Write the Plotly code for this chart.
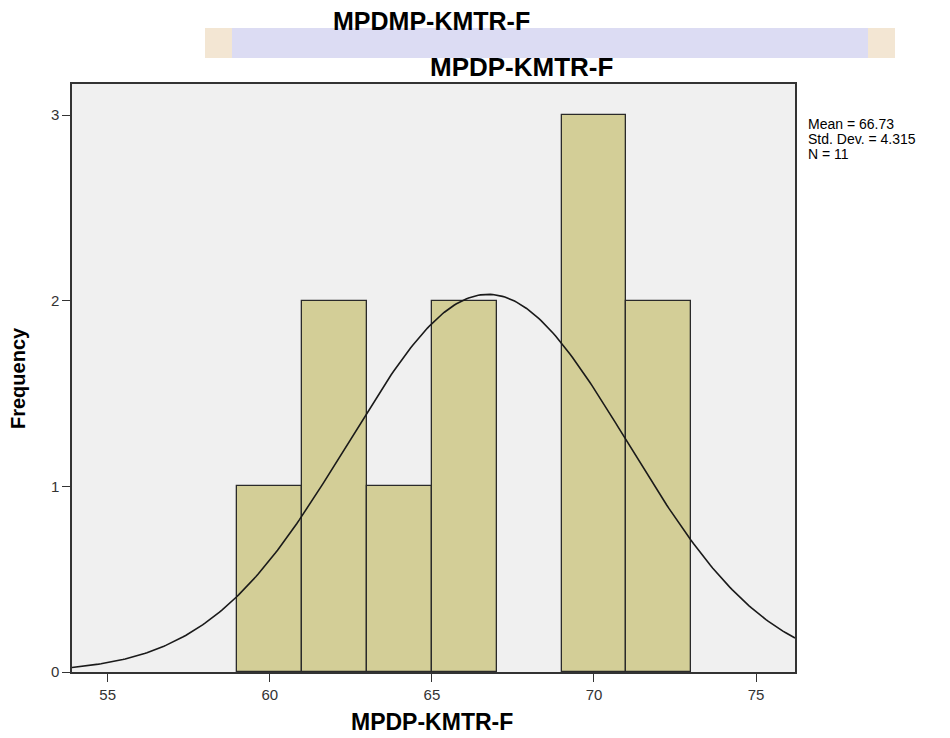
import numpy as np
import plotly.graph_objects as go

# histogram bins (SPSS output)
bin_start = [59, 61, 63, 65, 69, 71]
bin_end = [61, 63, 65, 67, 71, 73]
counts = [1, 2, 1, 2, 3, 2]

mean_val = 66.73
std_val = 4.315
n_val = 11
bin_width = 2

x_ticks = [55, 60, 65, 70, 75]
y_ticks = [0, 1, 2, 3]

FONT = 'Arial, Liberation Sans, sans-serif'


def normal_curve(lo, hi, mu, sd, n, width):
    xs = np.linspace(lo, hi, 300)
    ys = n * width / (sd * np.sqrt(2 * np.pi)) * np.exp(-0.5 * ((xs - mu) / sd) ** 2)
    return xs, ys


# page pixel -> paper coords (plot area is 72..795 x 84..672 on the page)
def px(x):
    return (x - 72) / 723


def py(y):
    return (672 - y) / 588


def label(text, x, y, size, **kw):
    return dict(text=text, xref='paper', yref='paper', x=px(x), y=py(y),
                xanchor=kw.pop('xanchor', 'center'), yanchor='middle', showarrow=False,
                font=dict(size=size, color='black', family=FONT), **kw)


centers = [(a + b) / 2 for a, b in zip(bin_start, bin_end)]
widths = [b - a for a, b in zip(bin_start, bin_end)]

fig = go.Figure()
fig.add_trace(go.Bar(x=centers, y=counts, width=widths,
                     marker=dict(color='#D3CE97', line=dict(color='#2a2a2a', width=1.3)),
                     showlegend=False))

cx, cy = normal_curve(53.9, 76.2, mean_val, std_val, n_val, bin_width)
fig.add_trace(go.Scatter(x=cx, y=cy, mode='lines',
                         line=dict(color='#1a1a1a', width=1.6),
                         showlegend=False))

stats = ['Mean = %.2f' % mean_val, 'Std. Dev. = %.3f' % std_val, 'N = %d' % n_val]
stat_ann = [label(s, 806, 124 + 15 * i, 14, xanchor='left') for i, s in enumerate(stats)]

band = dict(type='rect', xref='paper', yref='paper', line=dict(width=0), layer='below')

fig.update_layout(
    width=942, height=730,
    margin=dict(l=64, r=155, t=76, b=66),
    paper_bgcolor='white',
    plot_bgcolor='#F0F0F0',
    font=dict(family=FONT, size=15, color='#333333'),
    bargap=0,
    # watermark band behind the titles
    shapes=[
        dict(band, x0=px(205), x1=px(895), y0=py(58), y1=py(28), fillcolor='#DCDCF3'),
        dict(band, x0=px(205), x1=px(232), y0=py(58), y1=py(28), fillcolor='#F3E6D3'),
        dict(band, x0=px(868), x1=px(895), y0=py(58), y1=py(28), fillcolor='#F3E6D3'),
    ],
    annotations=[
        label('<b>MPDMP-KMTR-F</b>', 431, 21, 25),
        label('<b>MPDP-KMTR-F</b>', 521, 67, 26),
        label('<b>MPDP-KMTR-F</b>', 432, 722, 23),
        label('<b>Frequency</b>', 18, 378, 20, textangle=-90),
    ] + stat_ann,
)

fig.update_xaxes(range=[53.9, 76.2], tickvals=x_ticks, showgrid=False, zeroline=False,
                 showline=True, linecolor='#333333', linewidth=1.5, mirror=True,
                 ticks='outside', ticklen=8, tickcolor='#333333',
                 tickfont=dict(size=15, color='#333333'))
fig.update_yaxes(range=[0, 3.167], tickvals=y_ticks, showgrid=False, zeroline=False,
                 showline=True, linecolor='#333333', linewidth=1.5, mirror=True,
                 ticks='outside', ticklen=8, tickcolor='#333333',
                 tickfont=dict(size=15, color='#333333'))

fig.write_html("out.html")
